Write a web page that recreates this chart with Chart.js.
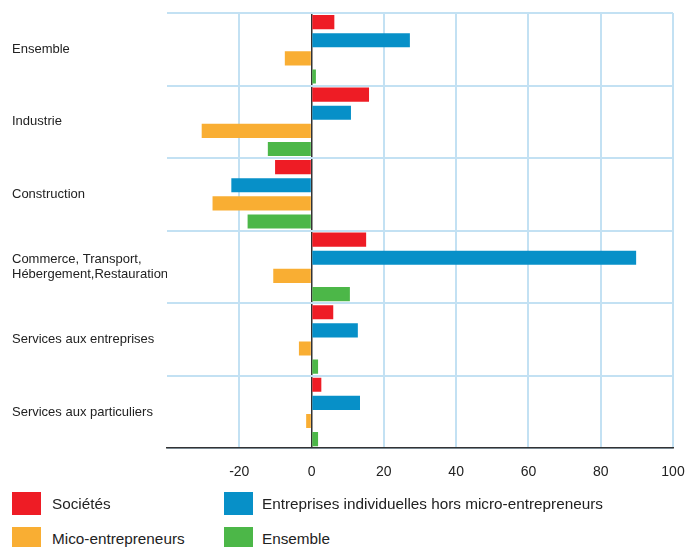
<!DOCTYPE html>
<html>
<head>
<meta charset="utf-8">
<script src="https://cdn.jsdelivr.net/npm/chart.js@4"></script>
<style>
  body { margin: 0; background: #fff; font-family: 'Liberation Sans', Arial, sans-serif; }
  #wrap { position: relative; width: 685px; height: 547px; overflow: hidden; }
  #box { position: absolute; left: 0; top: 0; width: 685px; height: 497px; }
  .item { position: absolute; height: 23px; }
  .item span.sw { position: absolute; left: 0; top: 0; width: 29px; height: 23px; }
  .item span.tx { position: absolute; top: 3px; white-space: nowrap; font-size: 15.3px; color: #222; }
</style>
</head>
<body>
<div id="wrap">
  <div id="box"><canvas id="chart"></canvas></div>
  <div id="legend"></div>
</div>
<script>
const categories = [
  'Ensemble',
  'Industrie',
  'Construction',
  ['Commerce, Transport,', 'Hébergement,Restauration'],
  'Services aux entreprises',
  'Services aux particuliers',
];

const seriesNames = [
  'Sociétés',
  'Entreprises individuelles hors micro-entrepreneurs',
  'Mico-entrepreneurs',
  'Ensemble',
];

const societes = [6.3, 15.9, -10.1, 15.1, 6.0, 2.7];
const entreprisesIndiv = [27.2, 10.9, -22.2, 89.8, 12.8, 13.4];
const microEntrepreneurs = [-7.4, -30.4, -27.4, -10.6, -3.5, -1.5];
const ensemble = [1.2, -12.1, -17.7, 10.6, 1.8, 1.8];

const xTicks = [-40, -20, 0, 20, 40, 60, 80, 100];

const colors = ['#ee1c25', '#0790c8', '#f9ae33', '#4cb748'];
const gridBlue = '#c3e1f3';

const values = [societes, entreprisesIndiv, microEntrepreneurs, ensemble];

const ctx = document.getElementById('chart');

new Chart(ctx, {
  type: 'bar',
  data: {
    labels: categories,
    datasets: values.map((v, i) => ({
      label: seriesNames[i],
      data: v,
      backgroundColor: colors[i],
      borderWidth: 0,
      barPercentage: 0.78,
      categoryPercentage: 1,
    })),
  },
  options: {
    indexAxis: 'y',
    responsive: true,
    maintainAspectRatio: false,
    animation: false,
    layout: { padding: { top: 13, left: 12, right: 0, bottom: 0 } },
    plugins: {
      legend: { display: false },
      tooltip: { enabled: false },
    },
    scales: {
      x: {
        min: xTicks[0],
        max: xTicks[xTicks.length - 1],
        afterBuildTicks: (scale) => {
          scale.ticks = xTicks.map((t) => ({ value: t }));
        },
        afterFit: (scale) => {
          scale.paddingRight = 12;
        },
        grid: {
          drawTicks: false,
          color: (c) => (c.tick && c.tick.value === 0 ? '#333' : c.tick && c.tick.value === -40 ? 'rgba(0,0,0,0)' : gridBlue),
          lineWidth: (c) => (c.tick && c.tick.value === 0 ? 1.5 : 2),
        },
        border: { display: true, color: '#333', width: 1.5 },
        ticks: {
          padding: 16,
          color: '#222',
          font: { family: 'Liberation Sans', size: 14 },
          callback: (v) => (v === -40 ? '' : v),
        },
      },
      y: {
        afterFit: (scale) => {
          scale.width = 155;
        },
        grid: {
          drawTicks: false,
          color: gridBlue,
          lineWidth: 2,
          offset: true,
        },
        border: { display: false },
        ticks: {
          crossAlign: 'far',
          padding: 0,
          color: '#222',
          font: { family: 'Liberation Sans', size: 13, lineHeight: 1.1 },
        },
      },
    },
  },
});

// légende en html, 2 colonnes
const legendPos = [
  [12, 492],
  [224, 492],
  [12, 527],
  [224, 527],
];
const legend = document.getElementById('legend');
seriesNames.forEach((name, i) => {
  const el = document.createElement('div');
  el.className = 'item';
  el.style.left = legendPos[i][0] + 'px';
  el.style.top = legendPos[i][1] + 'px';
  el.innerHTML = `<span class="sw" style="background:${colors[i]}"></span><span class="tx" style="left:${i % 2 ? 38 : 40}px">${name}</span>`;
  legend.appendChild(el);
});
</script>
</body>
</html>
